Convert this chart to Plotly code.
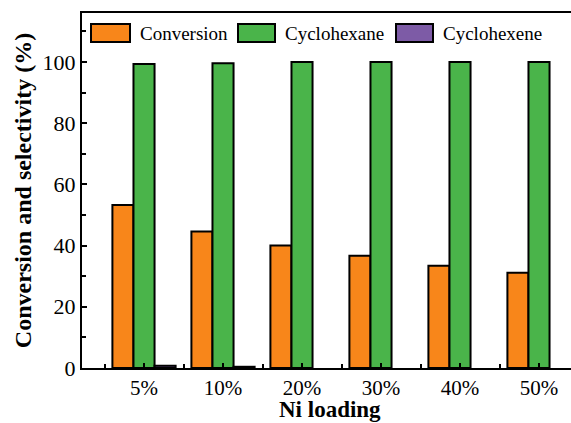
import plotly.graph_objects as go

categories = ["5%", "10%", "20%", "30%", "40%", "50%"]
series_names = ["Conversion", "Cyclohexane", "Cyclohexene"]
conversion = [53.3, 44.6, 40.0, 36.7, 33.4, 31.1]
cyclohexane = [99.3, 99.6, 100.0, 100.0, 100.0, 100.0]
cyclohexene = [0.7, 0.4, 0.0, 0.0, 0.0, 0.0]
colors = ["#F8861A", "#4AB44A", "#7D5BA6"]

W, H = 571, 423
L, R, T, B = 82, 0, 13, 55
FONT = "'Times New Roman', 'Liberation Serif', Times, serif"

xpos = list(range(len(categories)))
fig = go.Figure()
for name, vals, col in zip(series_names, [conversion, cyclohexane, cyclohexene], colors):
    line_w = [2 if v > 0 else 0 for v in vals]
    fig.add_trace(go.Bar(x=xpos, y=vals, name=name,
                         marker=dict(color=col, line=dict(color="black", width=line_w)),
                         showlegend=False))

pw = W - L - R
ph = H - T - B
def px_x(p):
    return (p - L) / pw
def px_y(p):
    return 1 - (p - T) / ph

# custom legend (large boxes like the reference)
legend_boxes = [(91, 130), (238, 275), (396, 433)]
for (x0, x1), name, col in zip(legend_boxes, series_names, colors):
    fig.add_shape(type="rect", xref="paper", yref="paper",
                  x0=px_x(x0), x1=px_x(x1), y0=px_y(42), y1=px_y(24),
                  fillcolor=col, line=dict(color="black", width=2))
    fig.add_annotation(xref="paper", yref="paper", x=px_x(x1 + 8), y=px_y(33),
                       text=name, showarrow=False, xanchor="left", yanchor="middle",
                       font=dict(family=FONT, size=19, color="black"))

# x-axis title
fig.add_annotation(xref="paper", yref="paper", x=px_x(330), y=px_y(423),
                   text="<b>Ni loading</b>", showarrow=False, xanchor="center", yanchor="bottom",
                   borderpad=0, font=dict(family=FONT, size=23, color="black"))

fig.update_layout(
    width=W, height=H,
    margin=dict(l=L, r=R, t=T, b=B, autoexpand=False),
    plot_bgcolor="white", paper_bgcolor="white",
    barmode="group", bargap=0.2, bargroupgap=0,
    font=dict(family=FONT, size=21, color="black"),
    xaxis=dict(
        range=[-0.785, 5.405], tickmode="array", tickvals=xpos, ticktext=categories,
        ticks="inside", ticklen=5, tickwidth=1.5, tickcolor="black",
        showline=True, linecolor="black", linewidth=2, mirror=True,
        showgrid=False, zeroline=False, automargin=False,
        minor=dict(tickmode="linear", tick0=0.5, dtick=1, ticks="inside", ticklen=4, tickwidth=1.5, tickcolor="black"),
        tickfont=dict(family=FONT, size=21),
    ),
    yaxis=dict(
        range=[0, 116], tickmode="array",
        tickvals=[0, 20, 40, 60, 80, 100],
        ticks="inside", ticklen=5, tickwidth=1.5, tickcolor="black",
        showline=True, linecolor="black", linewidth=2, mirror=False,
        showgrid=False, zeroline=False, automargin=False,
        minor=dict(tickmode="linear", tick0=10, dtick=20, ticks="inside", ticklen=4, tickwidth=1.5, tickcolor="black"),
        title=dict(text="<b>Conversion and selectivity (%)</b>", font=dict(family=FONT, size=24), standoff=4),
        tickfont=dict(family=FONT, size=22),
    ),
)

fig.write_html("out.html", config={"displayModeBar": False},
               post_script="document.body.style.margin='0';document.body.style.padding='0';document.documentElement.style.overflow='hidden';")
